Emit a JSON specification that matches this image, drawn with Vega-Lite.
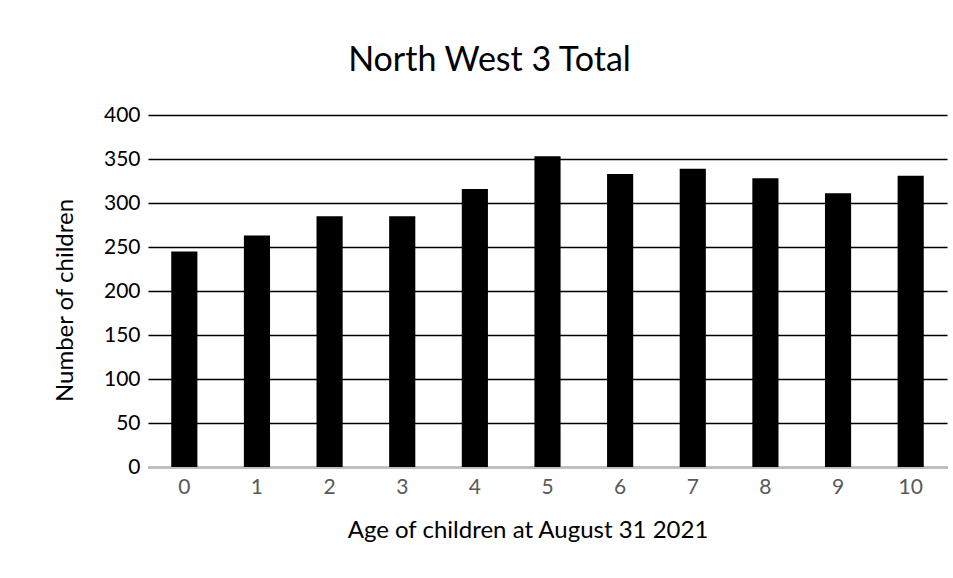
{
  "$schema": "https://vega.github.io/schema/vega-lite/v6.json",
  "description": "North West 3 Total - number of children by age at August 31 2021",
  "autosize": "none",
  "width": 799,
  "height": 352,
  "padding": {"left": 148, "top": 115, "right": 6, "bottom": 111},
  "background": "white",
  "title": {
    "text": "North West 3 Total",
    "font": "Lato",
    "fontSize": 34,
    "fontWeight": "normal",
    "color": "#000000",
    "baseline": "alphabetic",
    "offset": -1,
    "dx": -58
  },
  "data": {
    "values": [
      {"age": "0", "children": 245},
      {"age": "1", "children": 263},
      {"age": "2", "children": 285},
      {"age": "3", "children": 285},
      {"age": "4", "children": 316},
      {"age": "5", "children": 353},
      {"age": "6", "children": 333},
      {"age": "7", "children": 339},
      {"age": "8", "children": 328},
      {"age": "9", "children": 311},
      {"age": "10", "children": 331}
    ]
  },
  "mark": {"type": "bar", "color": "#000000"},
  "encoding": {
    "x": {
      "field": "age",
      "type": "ordinal",
      "sort": null,
      "scale": {"paddingInner": 0.64, "paddingOuter": 0.32},
      "axis": {
        "title": "Age of children at August 31 2021",
        "titleFont": "Lato",
        "titleFontSize": 24,
        "titleFontWeight": "normal",
        "titleColor": "#000000",
        "titleBaseline": "alphabetic",
        "titleX": 379.5,
        "titleY": 70,
        "titleAnchor": null,
        "labelAngle": 0,
        "labelFont": "Lato",
        "labelFontSize": 21,
        "labelColor": "#595959",
        "labelPadding": 9,
        "ticks": false,
        "domainColor": "#bfbfbf",
        "domainWidth": 1.5,
        "grid": false
      }
    },
    "y": {
      "field": "children",
      "type": "quantitative",
      "scale": {"domain": [0, 400], "nice": false},
      "axis": {
        "title": "Number of children",
        "titleFont": "Lato",
        "titleFontSize": 24,
        "titleFontWeight": "normal",
        "titleColor": "#000000",
        "titleAngle": -90,
        "titleBaseline": "alphabetic",
        "titleAlign": "center",
        "titleX": -76,
        "titleY": 185,
        "titleAnchor": null,
        "values": [0, 50, 100, 150, 200, 250, 300, 350, 400],
        "labelFont": "Lato",
        "labelFontSize": 21,
        "labelColor": "#000000",
        "labelPadding": 8,
        "ticks": false,
        "domain": false,
        "grid": true,
        "gridColor": "#000000",
        "gridWidth": 1.3
      }
    }
  },
  "config": {
    "view": {"stroke": null}
  }
}
